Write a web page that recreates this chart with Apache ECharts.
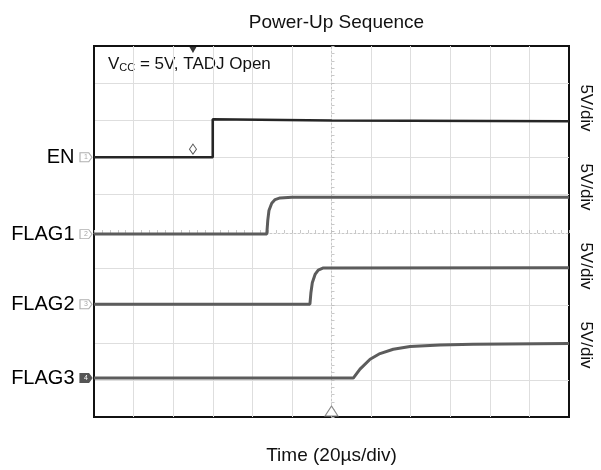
<!DOCTYPE html>
<html>
<head>
<meta charset="utf-8">
<script src="https://cdn.jsdelivr.net/npm/echarts@6/dist/echarts.min.js"></script>
<style>html,body{margin:0;padding:0;background:#fff;}#c{width:601px;height:470px;}</style>
</head>
<body>
<div id="c"></div>
<script>
// ---- data (time in µs, voltage in V) ----
const channelNames = ['EN', 'FLAG1', 'FLAG2', 'FLAG3'];
const channelNumbers = ['1', '2', '3', '4'];
const channelOffsets = [7.0, 4.93, 3.04, 1.05];   // ground level, divisions
const voltsPerDiv = 5;
const timeMin = 0, timeMax = 240, timePerDiv = 20;

const enTime = [0, 60, 60, 120, 240];
const enVolt = [0, 0, 5.12, 4.95, 4.85];
const flag1Time = [0, 87.3, 87.8, 88.4, 89.8, 91.5, 94.0, 100, 240];
const flag1Volt = [0, 0, 1.84, 3.18, 4.17, 4.65, 4.88, 4.95, 4.95];
const flag2Time = [0, 109.1, 109.6, 110.3, 111.7, 113.3, 115.9, 240];
const flag2Volt = [0, 0, 1.55, 2.89, 4.01, 4.59, 4.89, 4.92];
const flag3Time = [0, 131.0, 134.4, 139.5, 144.5, 151.2, 159.7, 174.8, 191.5, 240];
const flag3Volt = [0, 0, 1.20, 2.54, 3.30, 3.88, 4.24, 4.47, 4.55, 4.64];

const triggerTime = 50, triggerLevelVolt = 1.1, centerTime = 120;
const scaleLabels = ['5V/div', '5V/div', '5V/div', '5V/div'];
const titleText = 'Power-Up Sequence';
const xName = 'Time (20µs/div)';

const traces = [
  [enTime, enVolt], [flag1Time, flag1Volt], [flag2Time, flag2Volt], [flag3Time, flag3Volt]
];

const FONT = 'Liberation Sans, Arial, sans-serif';
const chart = echarts.init(document.getElementById('c'), null, {renderer: 'canvas'});

const gridLeft = 94, gridRight = 32, gridTop = 46, gridBottom = 50;
const gridW = 601 - gridLeft - gridRight, gridH = 470 - gridTop - gridBottom;

const nX = (timeMax - timeMin) / timePerDiv;
const xSplitColors = [];
for (let i = 0; i <= nX; i++) xSplitColors.push(i === 0 || i === nX ? '#111' : (i === nX / 2 ? 'rgba(0,0,0,0)' : '#dedede'));
const ySplitColors = [];
for (let i = 0; i <= 10; i++) ySplitColors.push(i === 0 || i === 10 ? '#111' : (i === 5 ? 'rgba(0,0,0,0)' : '#dedede'));

const traceColors = ['#262626', '#5c5c5c', '#5c5c5c', '#5c5c5c'];

const series = traces.map((tr, k) => {
  const off = channelOffsets[k];
  const data = tr[0].map((t, i) => [t, off + tr[1][i] / voltsPerDiv]);
  const mp = [
    {
      coord: [timeMin, off], symbol: 'path://M0,0 L8,0 L11,4 L8,8 L0,8 Z', symbolSize: [12, 9], symbolOffset: [-8, 0],
      itemStyle: k === 3 ? {color: '#555', borderColor: '#555', borderWidth: 1} : {color: '#fff', borderColor: '#b0b0b0', borderWidth: 1},
      label: {show: true, position: 'inside', formatter: channelNumbers[k], fontSize: 7, color: k === 3 ? '#fff' : '#aaa', fontFamily: FONT}
    },
    {
      coord: [timeMin, off], symbol: 'circle', symbolSize: 1, itemStyle: {color: 'rgba(0,0,0,0)'},
      label: {show: true, position: 'left', distance: 19, formatter: channelNames[k], fontSize: 20, color: '#000', fontFamily: FONT}
    }
  ];
  if (k === 0) {
    mp.push({coord: [triggerTime, 10], symbol: 'triangle', symbolRotate: 180, symbolSize: [7, 6], symbolOffset: [0, 4],
      itemStyle: {color: '#333'}, label: {show: false}});
    mp.push({coord: [triggerTime, off + triggerLevelVolt / voltsPerDiv], symbol: 'diamond', symbolSize: [7, 10],
      itemStyle: {color: '#fff', borderColor: '#555', borderWidth: 1}, label: {show: false}});
    mp.push({coord: [centerTime, 0], symbol: 'triangle', symbolSize: [13, 10], symbolOffset: [0, -6],
      itemStyle: {color: '#fff', borderColor: '#888', borderWidth: 1}, label: {show: false}});
  }
  return {
    name: channelNames[k], type: 'line', data, showSymbol: false, symbol: 'none', silent: true,
    lineStyle: {color: traceColors[k], width: k === 0 ? 2.6 : 3}, animation: false,
    markPoint: {silent: true, animation: false, data: mp}
  };
});

const option = {
  animation: false,
  title: {
    text: titleText, left: gridLeft + gridW / 2, textAlign: 'center', top: 8,
    textStyle: {fontFamily: FONT, fontSize: 19, fontWeight: 'normal', color: '#111'}
  },
  grid: {left: gridLeft, right: gridRight, top: gridTop, bottom: gridBottom, show: true, borderColor: '#111', borderWidth: 2, backgroundColor: 'transparent'},
  xAxis: [
    {
      type: 'value', min: timeMin, max: timeMax, interval: timePerDiv,
      name: xName, nameLocation: 'middle', nameGap: 29,
      nameTextStyle: {fontFamily: FONT, fontSize: 19, color: '#111'},
      axisLine: {show: false}, axisTick: {show: false}, axisLabel: {show: false},
      splitLine: {show: true, showMinLine: true, showMaxLine: true, lineStyle: {color: xSplitColors, width: 1}}
    },
    {
      type: 'value', min: timeMin, max: timeMax, interval: timePerDiv, position: 'bottom', offset: -gridH / 2,
      axisLine: {show: true, lineStyle: {color: '#c8c8c8', type: [2, 2], width: 1}},
      axisTick: {show: true, inside: true, length: 3, lineStyle: {color: '#c0c0c0'}},
      minorTick: {show: true, splitNumber: 5, length: 3, lineStyle: {color: '#c8c8c8'}},
      axisLabel: {show: false}, splitLine: {show: false}
    }
  ],
  yAxis: [
    {
      type: 'value', min: 0, max: 10, interval: 1,
      axisLine: {show: false}, axisTick: {show: false}, axisLabel: {show: false},
      splitLine: {show: true, showMinLine: true, showMaxLine: true, lineStyle: {color: ySplitColors, width: 1}}
    },
    {
      type: 'value', min: 0, max: 10, interval: 1, position: 'left', offset: -gridW / 2,
      axisLine: {show: true, lineStyle: {color: '#c8c8c8', type: [2, 2], width: 1}},
      axisTick: {show: true, inside: true, length: 3, lineStyle: {color: '#c0c0c0'}},
      minorTick: {show: true, splitNumber: 5, length: 3, lineStyle: {color: '#c8c8c8'}},
      axisLabel: {show: false}, splitLine: {show: false}
    }
  ],
  graphic: [
    {
      type: 'text', left: 108, top: 56, silent: true,
      style: {
        text: 'V{sub|CC} = 5V, TADJ Open', fontFamily: FONT, fontSize: 17, fill: '#111',
        rich: {sub: {fontSize: 11, fontFamily: FONT, fill: '#111', verticalAlign: 'bottom', padding: [6, 0, 0, 0]}}
      }
    }
  ].concat(scaleLabels.map((s, i) => ({
    type: 'text', x: 586, y: [108, 187, 266, 345][i], rotation: -Math.PI / 2, silent: true,
    style: {text: s, fontFamily: FONT, fontSize: 17, fill: '#111', align: 'center', verticalAlign: 'middle'}
  }))),
  series
};
chart.setOption(option);
</script>
</body>
</html>
